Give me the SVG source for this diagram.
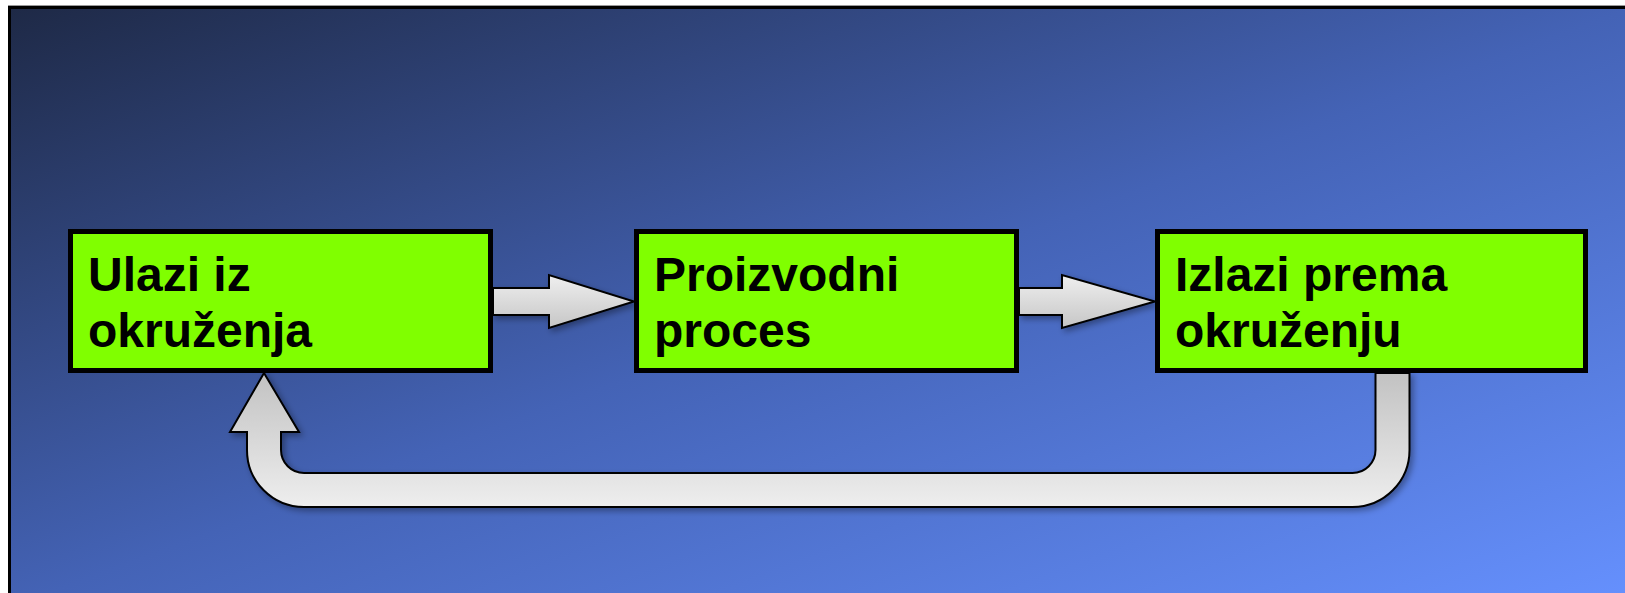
<svg xmlns="http://www.w3.org/2000/svg" width="1625" height="593" viewBox="0 0 1625 593">
  <defs>
    <linearGradient id="bg" x1="0" y1="0" x2="1" y2="1">
      <stop offset="0" stop-color="#1e2946"/>
      <stop offset="0.5" stop-color="#4463b6"/>
      <stop offset="1" stop-color="#6691ff"/>
    </linearGradient>
    <linearGradient id="harrow" x1="0" y1="0" x2="0" y2="1">
      <stop offset="0" stop-color="#efefef"/>
      <stop offset="1" stop-color="#c6c6c6"/>
    </linearGradient>
    <linearGradient id="farrow" x1="0" y1="0" x2="0" y2="1">
      <stop offset="0" stop-color="#c2c2c2"/>
      <stop offset="1" stop-color="#eeeeee"/>
    </linearGradient>
    <filter id="shadow" x="-10%" y="-10%" width="130%" height="130%">
      <feDropShadow dx="3" dy="3" stdDeviation="3" flood-color="#000" flood-opacity="0.35"/>
    </filter>
    <style>
      .box { fill: #80ff00; stroke: #000; stroke-width: 5; }
      .lbl { font-family: "Liberation Sans", Arial, sans-serif; font-weight: bold; font-size: 48px; fill: #000; }
      .arr { stroke: #000; stroke-width: 2; stroke-linejoin: miter; filter: url(#shadow); }
    </style>
  </defs>

  <rect x="0" y="0" width="1625" height="593" fill="#ffffff"/>
  <rect x="9.5" y="7.5" width="1625" height="600" fill="url(#bg)" stroke="#000" stroke-width="3"/>
  <line x1="8" y1="5.5" x2="1625" y2="5.5" stroke="#9a9a9a" stroke-width="1"/>

  <g id="connectors">
    <path class="arr" fill="url(#harrow)" d="M493,288 H549 V275 L634,301.5 L549,328 V315 H493 Z"/>
    <path class="arr" fill="url(#harrow)" d="M1019,288 H1062 V275 L1155,301.5 L1062,328 V315 H1019 Z"/>
    <path class="arr" fill="url(#farrow)" d="M264,373 L299,432 L281,432 V450 A23,23 0 0 0 304,473 H1352.5 A23,23 0 0 0 1375.5,450 V373 H1409.5 V450 A57,57 0 0 1 1352.5,507 H304 A57,57 0 0 1 247,450 V432 H230 Z"/>
  </g>

  <g id="node-ulazi">
    <rect class="box" x="70.5" y="231.5" width="420" height="139"/>
    <text class="lbl" x="88" y="291">Ulazi iz</text>
    <text class="lbl" x="88" y="347">okruženja</text>
  </g>
  <g id="node-proces">
    <rect class="box" x="636.5" y="231.5" width="380" height="139"/>
    <text class="lbl" x="654" y="291">Proizvodni</text>
    <text class="lbl" x="654" y="347">proces</text>
  </g>
  <g id="node-izlazi">
    <rect class="box" x="1157.5" y="231.5" width="428" height="139"/>
    <text class="lbl" x="1175" y="291">Izlazi prema</text>
    <text class="lbl" x="1175" y="347">okruženju</text>
  </g>
</svg>
